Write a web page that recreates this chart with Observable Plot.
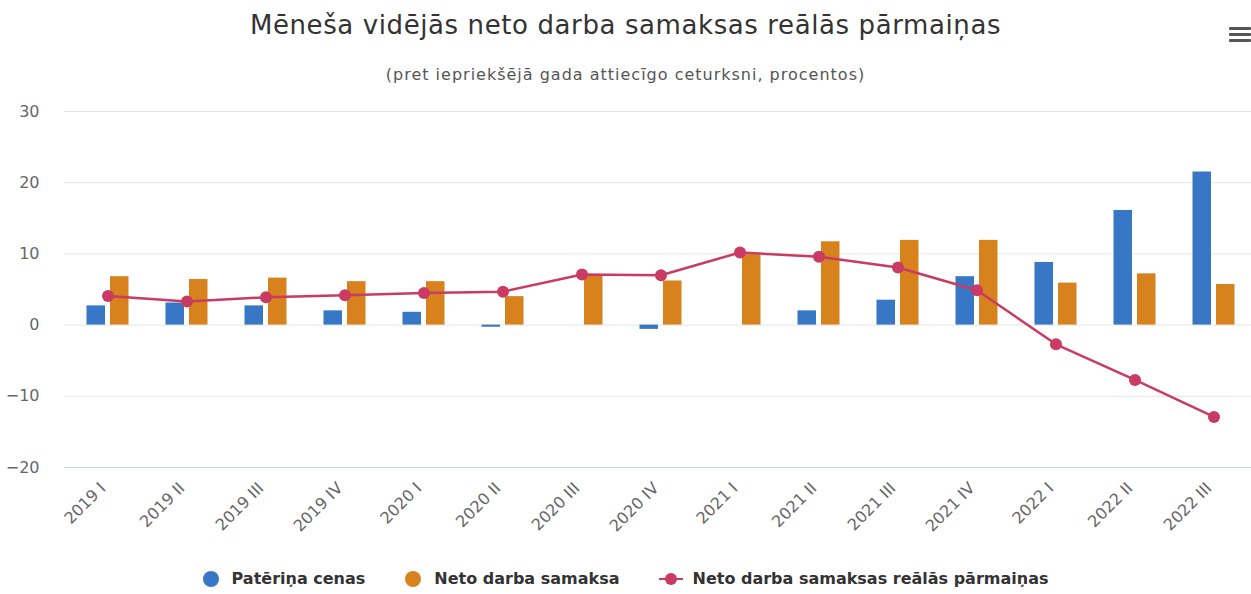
<!DOCTYPE html>
<html><head><meta charset="utf-8">
<script src="https://cdn.jsdelivr.net/npm/d3@7"></script>
<script src="https://cdn.jsdelivr.net/npm/@observablehq/plot@0.6"></script>
<style>
body{margin:0;background:#fff;font-family:"DejaVu Sans",sans-serif;width:1251px;height:594px;overflow:hidden;position:relative}
#title{position:absolute;top:10px;left:0;width:1251px;text-align:center;font-size:26px;letter-spacing:0.6px;color:#333;white-space:nowrap}
#subtitle{position:absolute;top:65px;left:0;width:1251px;text-align:center;font-size:16px;letter-spacing:1px;color:#555;white-space:nowrap}
#menu{position:absolute;left:1229px;top:27px;width:22px}
#menu div{height:3px;background:#555;margin-bottom:3px;border-radius:1px}
#chart{position:absolute;top:95px;left:0}
#chart svg text{font-family:"DejaVu Sans",sans-serif}
#legend{position:absolute;top:569px;left:0;width:1251px;display:flex;justify-content:center;gap:40px;font-size:16px;font-weight:bold;color:#333;white-space:nowrap}
.li{display:flex;align-items:center;gap:13px}
.dot{width:16px;height:16px;border-radius:50%}
.sym{position:relative;width:24px;height:16px;margin-right:-4px}
.sym .ln{position:absolute;left:0;top:7px;width:24px;height:2.5px;background:#c93b62}
.sym .pt{position:absolute;left:6px;top:2px;width:12px;height:12px;border-radius:50%;background:#c93b62}
</style></head>
<body>
<div id="title">Mēneša vidējās neto darba samaksas reālās pārmaiņas</div>
<div id="subtitle">(pret iepriekšējā gada attiecīgo ceturksni, procentos)</div>
<div id="menu"><div></div><div></div><div></div></div>
<div id="chart"></div>
<div id="legend">
  <div class="li"><span class="dot" style="background:#3877c5"></span>Patēriņa cenas</div>
  <div class="li"><span class="dot" style="background:#d8821e"></span>Neto darba samaksa</div>
  <div class="li"><span class="sym"><span class="ln"></span><span class="pt"></span></span>Neto darba samaksas reālās pārmaiņas</div>
</div>
<script>
const categories = ["2019 I","2019 II","2019 III","2019 IV","2020 I","2020 II","2020 III","2020 IV","2021 I","2021 II","2021 III","2021 IV","2022 I","2022 II","2022 III"];
const consumerPrices = [2.7,3.1,2.7,2.0,1.8,-0.3,0.0,-0.6,0.0,2.0,3.5,6.8,8.8,16.1,21.5];
const netWage = [6.8,6.4,6.6,6.1,6.1,4.0,7.0,6.2,9.9,11.7,11.9,11.9,5.9,7.2,5.7];
const realWage = [4.1,3.3,3.9,4.2,4.5,4.7,7.1,7.0,10.2,9.6,8.1,4.9,-2.7,-7.7,-12.9];
const yTicks = [-20,-10,0,10,20,30];

const data = categories.map((c,i)=>({cat:c, cpi:consumerPrices[i], wage:netWage[i], real:realWage[i]}));

const chart = Plot.plot({
  width:1251, height:460,
  marginLeft:64, marginRight:0, marginTop:16, marginBottom:88,
  style:{fontFamily:"'DejaVu Sans', sans-serif", background:"transparent"},
  x:{domain:categories, range:[64.25,1256.75], padding:0, label:null},
  y:{domain:[-20,30], label:null},
  marks:[
    Plot.gridY(yTicks, {stroke:"#e6e6e6", strokeOpacity:1}),
    Plot.ruleY([-20], {stroke:"#ccd6eb"}),
    Plot.axisY(yTicks, {tickSize:0, tickPadding:25, fontSize:16, fill:"#666", label:null}),
    Plot.axisX({tickSize:0, tickRotate:-45, tickPadding:18, dx:-5, fontSize:16, fill:"#666", label:null}),
    Plot.barY(data, {x:"cat", y:"cpi", fill:"#3877c5", insetLeft:18.5, insetRight:42}),
    Plot.barY(data, {x:"cat", y:"wage", fill:"#d8821e", insetLeft:42, insetRight:18.5}),
    Plot.line(data, {x:"cat", y:"real", stroke:"#c93b62", strokeWidth:2.5}),
    Plot.dot(data, {x:"cat", y:"real", fill:"#c93b62", r:6})
  ]
});
document.getElementById("chart").appendChild(chart);
</script>
</body></html>
